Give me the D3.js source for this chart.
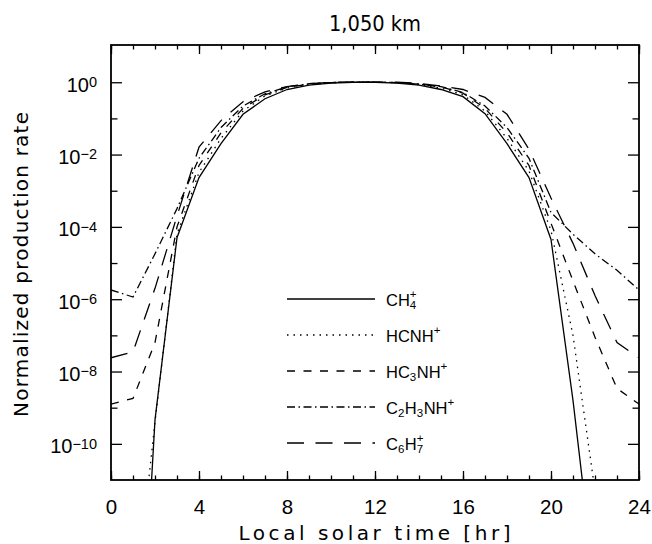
<!DOCTYPE html>
<html><head><meta charset="utf-8">
<script src="https://cdn.jsdelivr.net/npm/d3@7"></script>
<style>
body{margin:0;background:#fff}
svg{display:block}
text{font-family:"Liberation Sans",Arial,sans-serif;fill:#000}
text.ttl{font-family:"DejaVu Sans",Verdana,sans-serif}
</style>
</head><body>
<svg id="c" width="652" height="544"></svg>
<script>
// ---------- data ----------
const hours = [0,1,2,3,4,5,6,7,8,9,10,11,12,13,14,15,16,17,18,19,20,21,22,23,24];
const ch4    = [1e-25,1e-20,4.6e-10,5.0e-5,2.3e-3,2.0e-2,0.13,0.35,0.63,0.83,0.95,1.0,1.0,0.95,0.83,0.63,0.40,0.135,2.0e-2,2.3e-3,4.5e-5,1.6e-9,1e-14,1e-20,1e-25];
const hcnh   = [1e-20,1e-15,4.0e-10,6.3e-5,3.2e-3,2.8e-2,0.16,0.42,0.69,0.87,0.98,1.0,1.0,0.98,0.87,0.69,0.45,0.16,2.8e-2,3.5e-3,7.9e-5,1.0e-7,5.0e-12,1e-16,1e-20];
const hc3nh  = [1.26e-9,1.8e-9,6.3e-8,1.0e-4,5.0e-3,4.0e-2,0.19,0.45,0.72,0.89,0.98,1.0,1.0,0.98,0.89,0.74,0.50,0.19,4.0e-2,5.0e-3,1.26e-4,3.2e-6,8.9e-8,3.4e-9,1.26e-9];
const c2h3nh = [1.8e-6,1.15e-6,1.8e-5,3.2e-4,7.9e-3,5.6e-2,0.22,0.48,0.74,0.91,0.98,1.0,1.0,0.98,0.89,0.76,0.52,0.22,5.6e-2,7.9e-3,2.5e-4,6.3e-5,1.8e-5,6.3e-6,1.8e-6];
const c6h7   = [2.4e-8,3.5e-8,2.0e-6,2.0e-4,1.6e-2,8.7e-2,0.29,0.54,0.76,0.91,1.0,1.0,1.0,1.0,0.93,0.79,0.63,0.38,0.13,1.4e-2,6.3e-4,3.5e-5,1.26e-6,6.3e-8,2.4e-8];
const seriesNames = ["CH_4^+","HCNH^+","HC_3NH^+","C_2H_3NH^+","C_6H_7^+"];
const seriesData = [ch4,hcnh,hc3nh,c2h3nh,c6h7];
const xMajorTicks = [0,4,8,12,16,20,24];
const xMinorTicks = [0,1,2,3,4,5,6,7,8,9,10,11,12,13,14,15,16,17,18,19,20,21,22,23,24];
const yMajorTicks = [1,1e-2,1e-4,1e-6,1e-8,1e-10];
const yMajorExps  = ["0","−2","−4","−6","−8","−10"];
const yMinorTicks = [1e-1,1e-3,1e-5,1e-7,1e-9];
const titleText = "1,050 km";
const xTitle = "Local solar time [hr]";
const yTitle = "Normalized production rate";

// ---------- layout ----------
const L=111,R=639,T=45,B=480;
const dashes = [null,"1.5,5","8,8.5","8,3.5,1.5,3.5","17,11.5"];

const svg = d3.select("#c");
const x = d3.scaleLinear().domain([0,24]).range([L,R]);
const y = d3.scaleLog().domain([1e-11, Math.pow(10,1.03)]).range([B,T]);

svg.append("defs").append("clipPath").attr("id","clip")
  .append("rect").attr("x",L).attr("y",T).attr("width",R-L).attr("height",B-T);

// lines
const line = d3.line().x((d,i)=>x(hours[i])).y(d=>y(d));
const g = svg.append("g").attr("clip-path","url(#clip)");
seriesData.forEach((s,k)=>{
  g.append("path").attr("d",line(s)).attr("fill","none").attr("stroke","#000")
   .attr("stroke-width",1.3).attr("stroke-dasharray",dashes[k]);
});

function styleAxis(sel){
  sel.select(".domain").remove();
  sel.selectAll(".tick line").attr("stroke","#000").attr("stroke-width",1.3);
}
// bottom
svg.append("g").attr("transform",`translate(0,${B})`)
  .call(d3.axisBottom(x).tickValues(xMinorTicks).tickSize(-4.5).tickFormat(""))
  .call(styleAxis);
const bx = svg.append("g").attr("transform",`translate(0,${B})`)
  .call(d3.axisBottom(x).tickValues(xMajorTicks).tickSize(-9).tickPadding(19).tickFormat(d3.format("d")))
  .call(styleAxis);
bx.selectAll("text").attr("font-size",20.5).attr("fill","#000");
// top
svg.append("g").attr("transform",`translate(0,${T})`)
  .call(d3.axisTop(x).tickValues(xMinorTicks).tickSize(-4.5).tickFormat("")).call(styleAxis);
svg.append("g").attr("transform",`translate(0,${T})`)
  .call(d3.axisTop(x).tickValues(xMajorTicks).tickSize(-9).tickFormat("")).call(styleAxis);
// left
svg.append("g").attr("transform",`translate(${L},0)`)
  .call(d3.axisLeft(y).tickValues(yMinorTicks).tickSize(-6.5).tickFormat("")).call(styleAxis);
svg.append("g").attr("transform",`translate(${L},0)`)
  .call(d3.axisLeft(y).tickValues(yMajorTicks).tickSize(-11).tickFormat("")).call(styleAxis);
// right
svg.append("g").attr("transform",`translate(${R},0)`)
  .call(d3.axisRight(y).tickValues(yMinorTicks).tickSize(-6.5).tickFormat("")).call(styleAxis);
svg.append("g").attr("transform",`translate(${R},0)`)
  .call(d3.axisRight(y).tickValues(yMajorTicks).tickSize(-11).tickFormat("")).call(styleAxis);

// y tick labels
yMajorTicks.forEach((v,i)=>{
  const t = svg.append("text").attr("x",97).attr("y",y(v)+9.4).attr("text-anchor","end").attr("font-size",20);
  t.append("tspan").text("10");
  t.append("tspan").attr("font-size",14.5).attr("dy",-4.5).text(yMajorExps[i]);
});

// frame
svg.append("rect").attr("x",L).attr("y",T).attr("width",R-L).attr("height",B-T)
  .attr("fill","none").attr("stroke","#000").attr("stroke-width",1.8);

// titles
svg.append("text").attr("class","ttl").attr("x",375).attr("y",31).attr("text-anchor","middle").attr("font-size",21)
  .attr("textLength",92).attr("lengthAdjust","spacingAndGlyphs").text(titleText);
svg.append("text").attr("class","ttl").attr("x",374.5).attr("y",540).attr("text-anchor","middle").attr("font-size",20)
  .attr("textLength",272).attr("lengthAdjust","spacing").text(xTitle);
svg.append("text").attr("class","ttl").attr("transform","translate(27.5,264.5) rotate(-90)").attr("text-anchor","middle").attr("font-size",20)
  .attr("textLength",305).attr("lengthAdjust","spacing").text(yTitle);

// legend
function parseLabel(s){
  const out=[]; let i=0;
  while(i<s.length){
    const c=s[i];
    if(c==="_"||c==="^"){ out.push({t:s[i+1],k:c==="_"?"sub":"sup"}); i+=2; }
    else { let j=i; while(j<s.length&&s[j]!=="_"&&s[j]!=="^") j++; out.push({t:s.slice(i,j),k:"n"}); i=j; }
  }
  return out;
}
const lg = svg.append("g");
seriesNames.forEach((name,k)=>{
  const ly = 299 + k*36;
  lg.append("line").attr("x1",287).attr("x2",375).attr("y1",ly).attr("y2",ly)
    .attr("stroke","#000").attr("stroke-width",1.3).attr("stroke-dasharray",dashes[k]);
  let cx = 386, prevX = cx, prevK = null;
  parseLabel(name).forEach(p=>{
    let px = cx, py = ly+6.5, fs = 16.5;
    if(p.k==="sub"){ fs=11.5; py = ly+10; }
    if(p.k==="sup"){ fs=11.5; py = ly-1.5; if(prevK==="sub") px = prevX; }
    const t = lg.append("text").attr("x",px).attr("y",py).attr("font-size",fs).text(p.t);
    const w = t.node().getComputedTextLength();
    prevX = px; prevK = p.k;
    cx = Math.max(cx, px + w + (p.k==="n"?0:0.5));
  });
});
</script>
</body></html>
